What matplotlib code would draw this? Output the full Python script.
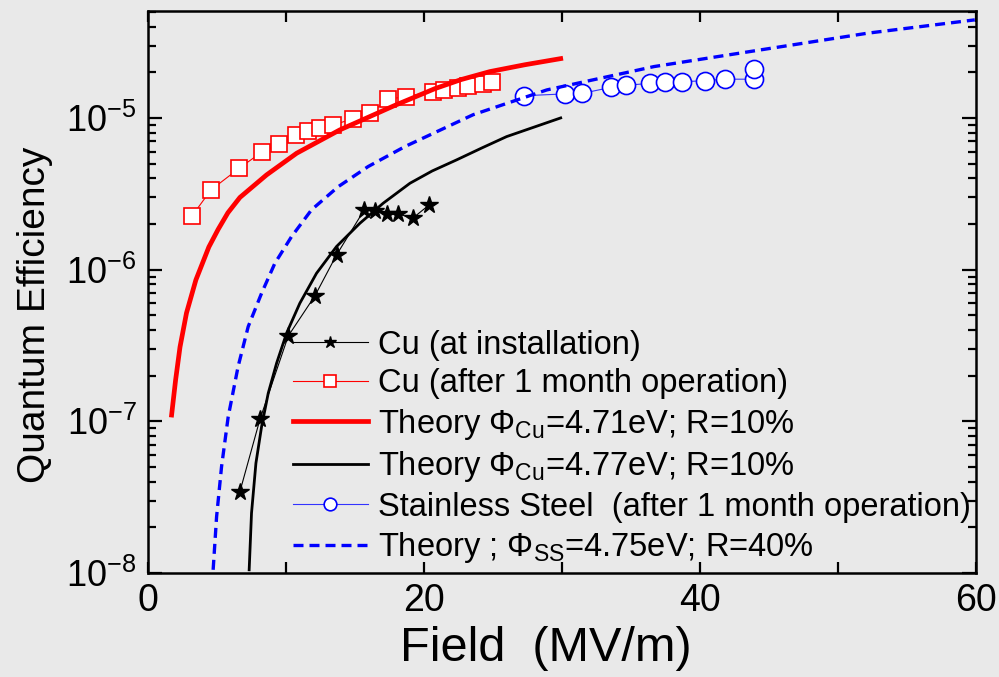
import matplotlib
matplotlib.use("Agg")
import matplotlib.pyplot as plt
from matplotlib.ticker import MultipleLocator, LogLocator, NullFormatter

plt.rcParams["font.family"] = ["Liberation Sans", "DejaVu Sans"]
plt.rcParams["mathtext.fontset"] = "custom"
plt.rcParams["mathtext.rm"] = "Liberation Sans"
plt.rcParams["mathtext.it"] = "Liberation Sans:italic"
plt.rcParams["mathtext.bf"] = "Liberation Sans:bold"

BG = "#e9e9e9"

# Cu cathode, measured at installation
cu_new_field = [6.67, 8.12, 10.17, 12.10, 13.67, 15.67, 16.45, 17.30, 18.14, 19.18, 20.38]
cu_new_qe = [3.44e-8, 1.03e-7, 3.65e-7, 6.71e-7, 1.25e-6, 2.47e-6, 2.45e-6, 2.33e-6,
             2.33e-6, 2.18e-6, 2.67e-6]

# Cu cathode after one month of operation
cu_old_field = [3.17, 4.57, 6.62, 8.24, 9.52, 10.72, 11.62, 12.46, 13.43, 14.83,
                16.09, 17.42, 18.67, 20.63, 21.45, 22.49, 23.21, 24.30, 24.90]
cu_old_qe = [2.24e-6, 3.35e-6, 4.66e-6, 5.94e-6, 6.74e-6, 7.69e-6, 8.20e-6, 8.63e-6,
             8.99e-6, 9.85e-6, 1.07e-5, 1.33e-5, 1.38e-5, 1.49e-5, 1.53e-5, 1.58e-5,
             1.63e-5, 1.68e-5, 1.72e-5]

# stainless steel after one month of operation
ss_field = [27.25, 30.20, 31.44, 33.56, 34.67, 36.35, 37.44, 38.72, 40.33, 41.82, 43.94, 43.94]
ss_qe = [1.40e-5, 1.44e-5, 1.45e-5, 1.59e-5, 1.64e-5, 1.69e-5, 1.72e-5, 1.73e-5,
         1.76e-5, 1.80e-5, 1.80e-5, 2.09e-5]

# Schottky model curves
th_cu471_field = [1.72, 2.01, 2.33, 2.80, 3.48, 4.42, 5.09, 5.80, 6.67, 8.60, 10.78,
                  13.91, 15.49, 17.90, 20.80, 22.70, 24.78, 27.30, 29.91]
th_cu471_qe = [1.10e-7, 1.87e-7, 3.09e-7, 5.18e-7, 8.55e-7, 1.41e-6, 1.84e-6, 2.37e-6,
               2.99e-6, 4.21e-6, 5.85e-6, 8.34e-6, 9.66e-6, 1.21e-5, 1.56e-5, 1.79e-5,
               2.02e-5, 2.24e-5, 2.46e-5]

th_cu477_field = [7.34, 7.51, 7.83, 8.24, 8.72, 9.33, 10.05, 11.01, 12.22, 13.67, 15.36,
                  17.05, 18.99, 20.60, 22.37, 24.20, 25.99, 29.91]
th_cu477_qe = [1.05e-8, 2.48e-8, 5.30e-8, 9.23e-8, 1.53e-7, 2.42e-7, 3.81e-7, 6.00e-7,
               9.46e-7, 1.42e-6, 2.02e-6, 2.74e-6, 3.71e-6, 4.47e-6, 5.29e-6, 6.34e-6,
               7.53e-6, 1.00e-5]

th_ss_field = [4.73, 4.98, 5.34, 5.82, 6.54, 7.27, 8.24, 9.20, 10.41, 11.86, 13.79, 15.96,
               18.62, 22.25, 23.57, 28.91, 36.67, 44.41, 52.16, 59.91]
th_ss_qe = [1.05e-8, 2.35e-8, 5.03e-8, 1.07e-7, 2.30e-7, 4.21e-7, 6.99e-7, 1.10e-6,
            1.65e-6, 2.48e-6, 3.52e-6, 4.78e-6, 6.47e-6, 9.23e-6, 1.05e-5, 1.53e-5,
            2.18e-5, 2.81e-5, 3.62e-5, 4.43e-5]

fig = plt.figure(figsize=(9.99, 6.77), dpi=100, facecolor=BG)
ax = fig.add_axes([0.148, 0.1536, 0.829, 0.8302])
ax.set_facecolor(BG)

ax.plot(cu_new_field, cu_new_qe, color="black", lw=0.8, marker="*", ms=13,
        mfc="black", mec="black", label="Cu (at installation)")
ax.plot(cu_old_field, cu_old_qe, color="red", lw=0.8, marker="s", ms=12,
        mfc="white", mec="red", mew=1.2, label="Cu (after 1 month operation)")
ax.plot(th_cu471_field, th_cu471_qe, color="red", lw=3.4,
        label="Theory Φ$_{\\mathrm{Cu}}$=4.71eV; R=10%")
ax.plot(th_cu477_field, th_cu477_qe, color="black", lw=2.0,
        label="Theory Φ$_{\\mathrm{Cu}}$=4.77eV; R=10%")
ax.plot(ss_field, ss_qe, color="#3333ff", lw=0.8, marker="o", ms=13,
        mfc="white", mec="blue", mew=1.2,
        label="Stainless Steel  (after 1 month operation)")
ax.plot(th_ss_field, th_ss_qe, color="blue", lw=2.4, dashes=(3.0, 1.8),
        label="Theory ; Φ$_{\\mathrm{SS}}$=4.75eV; R=40%")

# the dashed model curve sits on top of the open circles
ax.lines[-1].set_zorder(3)

ax.set_yscale("log")
ax.set_xlim(0, 60)
ax.set_ylim(1e-8, 5.07e-5)

ax.xaxis.set_major_locator(MultipleLocator(20))
ax.xaxis.set_minor_locator(MultipleLocator(10))
ax.yaxis.set_major_locator(LogLocator(base=10, numticks=10))
ax.yaxis.set_minor_locator(LogLocator(base=10, subs=range(2, 10), numticks=10))
ax.yaxis.set_minor_formatter(NullFormatter())

ax.tick_params(axis="both", which="both", direction="in", top=True, right=True,
               colors="black", width=1.6)
ax.tick_params(axis="x", which="both", length=8, labelsize=27, pad=7)
ax.tick_params(axis="y", which="major", length=10, labelsize=26, pad=8)
ax.tick_params(axis="y", which="minor", length=6)

for s in ax.spines.values():
    s.set_linewidth(1.8)
    s.set_color("black")

ax.set_xlabel("Field  (MV/m)", fontsize=35)
ax.xaxis.set_label_coords(0.481, -0.095)
ax.set_ylabel("Quantum Efficiency", fontsize=28)
ax.yaxis.set_label_coords(-0.115, 0.459)

leg = ax.legend(loc="lower left", bbox_to_anchor=(0.175, 0.014), frameon=False,
                fontsize=23.5, handlelength=2.3, handletextpad=0.3, labelspacing=0.23,
                borderpad=0, borderaxespad=0, markerscale=0.7, numpoints=1)

fig.savefig("out.png", dpi=100, facecolor=BG)
